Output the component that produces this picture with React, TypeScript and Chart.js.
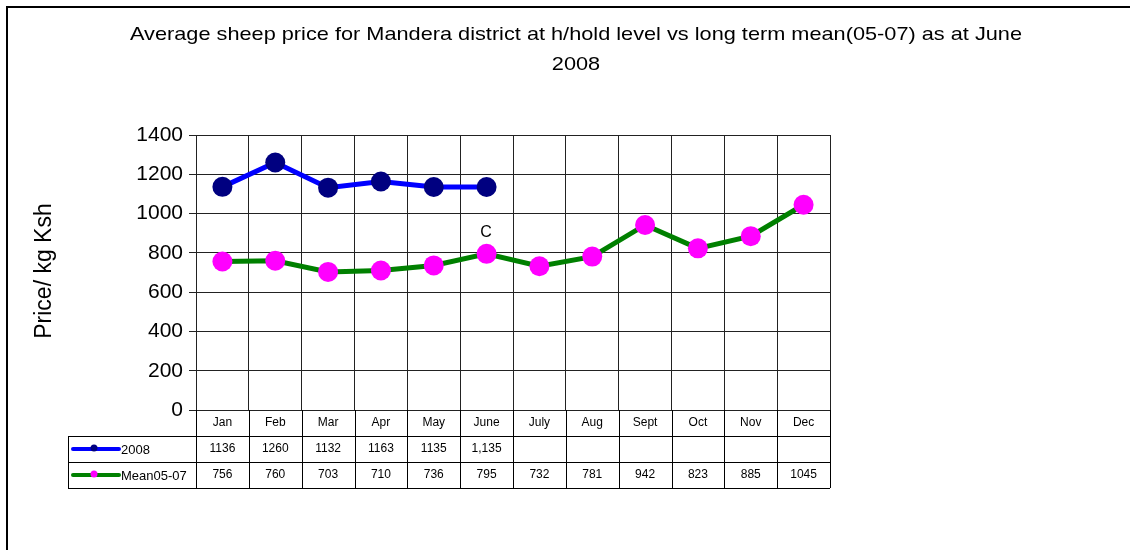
import React, { useEffect, useRef } from "react";
import { Chart, registerables } from "chart.js";
Chart.register(...registerables);

const titleLines = [
  "Average sheep price for Mandera district at h/hold level vs long term mean(05-07) as at June",
  "2008",
];
const yAxisTitle = "Price/ kg Ksh";
const months = ["Jan", "Feb", "Mar", "Apr", "May", "June", "July", "Aug", "Sept", "Oct", "Nov", "Dec"];
const series2008Name = "2008";
const series2008 = [1136, 1260, 1132, 1163, 1135, 1135, null, null, null, null, null, null];
const series2008Text = ["1136", "1260", "1132", "1163", "1135", "1,135", "", "", "", "", "", ""];
const seriesMeanName = "Mean05-07";
const seriesMean = [756, 760, 703, 710, 736, 795, 732, 781, 942, 823, 885, 1045];
const seriesMeanText = ["756", "760", "703", "710", "736", "795", "732", "781", "942", "823", "885", "1045"];
const yMin = 0;
const yMax = 1400;
const yStep = 200;

const FONT = "'Liberation Sans', Arial, sans-serif";

const decorPlugin = {
  id: "decor",
  afterDraw(chart: any) {
    const ctx = chart.ctx as CanvasRenderingContext2D;
    const { left, right, bottom } = chart.chartArea;
    ctx.save();

    // frame
    ctx.strokeStyle = "#000";
    ctx.lineWidth = 2;
    ctx.beginPath();
    ctx.moveTo(7, 550);
    ctx.lineTo(7, 7);
    ctx.lineTo(1130, 7);
    ctx.stroke();

    // title
    ctx.fillStyle = "#000";
    ctx.textAlign = "center";
    ctx.textBaseline = "middle";
    ctx.font = `19px ${FONT}`;
    const tw = ctx.measureText(titleLines[0]).width;
    const target = 892;
    ctx.save();
    ctx.translate(576, 0);
    ctx.scale(target / tw, 1);
    ctx.fillText(titleLines[0], 0, 35);
    ctx.fillText(titleLines[1], 0, 65);
    ctx.restore();

    // y axis title
    ctx.save();
    ctx.translate(45, 271);
    ctx.rotate(-Math.PI / 2);
    ctx.font = `23px ${FONT}`;
    ctx.fillText(yAxisTitle, 0, 0);
    ctx.restore();

    // artifact label near June
    ctx.font = `16px ${FONT}`;
    ctx.fillText("C", 486, 233);

    // data table
    const n = months.length;
    const w = (right - left) / n;
    const rowH = 26;
    const y0 = bottom;
    const y1 = y0 + rowH;
    const y2 = y1 + rowH;
    const y3 = y2 + rowH;
    const tableLeft = 68;
    ctx.strokeStyle = "#000";
    ctx.lineWidth = 1;
    ctx.beginPath();
    [y1, y2, y3].forEach((yy) => {
      ctx.moveTo(tableLeft, Math.round(yy) + 0.5);
      ctx.lineTo(right, Math.round(yy) + 0.5);
    });
    ctx.moveTo(tableLeft + 0.5, y1);
    ctx.lineTo(tableLeft + 0.5, y3);
    for (let i = 0; i <= n; i++) {
      const x = Math.round(left + i * w) + 0.5;
      ctx.moveTo(x, y0);
      ctx.lineTo(x, y3);
    }
    ctx.stroke();

    ctx.font = `12px ${FONT}`;
    ctx.fillStyle = "#000";
    ctx.textAlign = "center";
    for (let i = 0; i < n; i++) {
      const cx = left + (i + 0.5) * w;
      ctx.fillText(months[i], cx, (y0 + y1) / 2);
      ctx.fillText(series2008Text[i], cx, (y1 + y2) / 2);
      ctx.fillText(seriesMeanText[i], cx, (y2 + y3) / 2);
    }

    // legend keys
    const keys = [
      { y: (y1 + y2) / 2, line: "#0000FF", dot: "#000080", name: series2008Name },
      { y: (y2 + y3) / 2, line: "#008000", dot: "#FF00FF", name: seriesMeanName },
    ];
    keys.forEach((k) => {
      ctx.strokeStyle = k.line;
      ctx.lineWidth = 4;
      ctx.lineCap = "round";
      ctx.beginPath();
      ctx.moveTo(73, k.y);
      ctx.lineTo(119, k.y);
      ctx.stroke();
      ctx.fillStyle = k.dot;
      ctx.beginPath();
      ctx.arc(94, k.y - 1, 3.5, 0, Math.PI * 2);
      ctx.fill();
      ctx.fillStyle = "#000";
      ctx.textAlign = "left";
      ctx.font = `13px ${FONT}`;
      ctx.fillText(k.name, 121, k.y + 1);
    });

    ctx.restore();
  },
};

export default function App() {
  const ref = useRef<HTMLCanvasElement | null>(null);
  useEffect(() => {
    if (!ref.current) return;
    const chart = new Chart(ref.current, {
      type: "line",
      data: {
        labels: months,
        datasets: [
          {
            label: series2008Name,
            data: series2008,
            borderColor: "#0000FF",
            backgroundColor: "#000080",
            pointBackgroundColor: "#000080",
            pointBorderColor: "#000080",
            borderWidth: 5,
            pointRadius: 10,
            pointBorderWidth: 0,
            spanGaps: false,
            tension: 0,
          },
          {
            label: seriesMeanName,
            data: seriesMean,
            borderColor: "#008000",
            backgroundColor: "#FF00FF",
            pointBackgroundColor: "#FF00FF",
            pointBorderColor: "#FF00FF",
            borderWidth: 5,
            pointRadius: 10,
            pointBorderWidth: 0,
            tension: 0,
          },
        ],
      },
      options: {
        responsive: false,
        animation: false,
        layout: { padding: { left: 136, top: 135, right: 300, bottom: 140 } },
        plugins: {
          legend: { display: false },
          title: { display: false },
          tooltip: { enabled: false },
        },
        scales: {
          x: {
            type: "category",
            offset: true,
            ticks: { display: false },
            grid: { offset: true, color: "#222", drawTicks: false, lineWidth: 1 },
            border: { color: "#222" },
            afterFit: (s: any) => {
              s.height = 0;
            },
          },
          y: {
            min: yMin,
            max: yMax,
            ticks: {
              stepSize: yStep,
              color: "#000",
              font: { size: 21, family: FONT },
              padding: 6,
              callback: (v: any) => String(v),
            },
            grid: { color: "#222", tickLength: 7, lineWidth: 1 },
            border: { color: "#222" },
            afterFit: (s: any) => {
              s.width = 60;
            },
          },
        },
      },
      plugins: [decorPlugin],
    });
    return () => chart.destroy();
  }, []);
  return (
    <div style={{ position: "fixed", left: 0, top: 0, width: 1130, height: 550, background: "#fff" }}>
      <canvas ref={ref} width={1130} height={550} style={{ width: 1130, height: 550, display: "block" }} />
    </div>
  );
}
